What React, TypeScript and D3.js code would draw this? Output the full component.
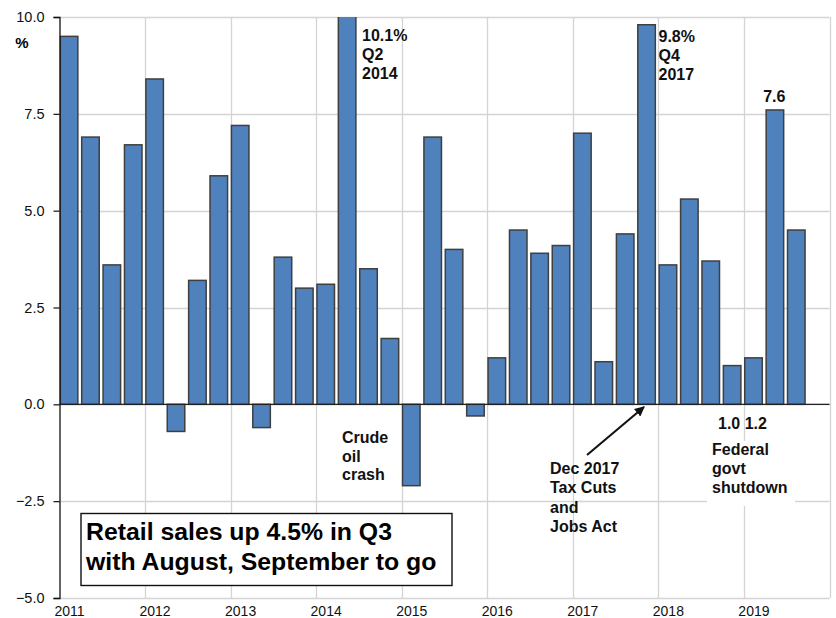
import React, { useRef, useEffect } from "react";
import * as d3 from "d3";

// Quarterly retail sales growth, annualized %
const years = ["2011", "2012", "2013", "2014", "2015", "2016", "2017", "2018", "2019"];
const quarterNames = ["Q1", "Q2", "Q3", "Q4"];
const values = [
  9.5, 6.9, 3.6, 6.7,
  8.4, -0.7, 3.2, 5.9,
  7.2, -0.6, 3.8, 3.0,
  3.1, 10.1, 3.5, 1.7,
  -2.1, 6.9, 4.0, -0.3,
  1.2, 4.5, 3.9, 4.1,
  7.0, 1.1, 4.4, 9.8,
  3.6, 5.3, 3.7, 1.0,
  1.2, 7.6, 4.5,
];
const yTicks = [-5, -2.5, 0, 2.5, 5, 7.5, 10];

const FONT = "'Liberation Sans', Arial, Helvetica, sans-serif";

const App = () => {
  const chartRef = useRef(null);

  useEffect(() => {
    const width = 836;
    const height = 618;
    const left = 59.5;
    const right = 829.5;
    const top = 17;
    const bottom = 598;

    const data = values.map((v, i) => ({
      label: `${years[Math.floor(i / 4)]} ${quarterNames[i % 4]}`,
      t: +years[Math.floor(i / 4)] + (i % 4) / 4,
      value: v,
    }));

    const svg = d3.select(chartRef.current).attr("width", width).attr("height", height);
    svg.selectAll("*").remove();

    const x = d3.scaleLinear().domain([2011, 2020]).range([left, right]);
    const y = d3.scaleLinear().domain([-5, 10]).range([bottom, top]);
    const slot = x(2011.25) - x(2011);
    const barW = slot * 0.82;

    const grid = "#d4d4d4";

    // horizontal gridlines
    svg
      .append("g")
      .selectAll("line")
      .data(yTicks)
      .join("line")
      .attr("x1", left)
      .attr("x2", right)
      .attr("y1", (d) => Math.round(y(d)) + 0.5)
      .attr("y2", (d) => Math.round(y(d)) + 0.5)
      .attr("stroke", grid)
      .attr("stroke-width", 1.3);

    // vertical year gridlines
    svg
      .append("g")
      .selectAll("line")
      .data(years.slice(1).map(Number).concat([2020]))
      .join("line")
      .attr("x1", (d) => Math.round(x(d)) + 0.5)
      .attr("x2", (d) => Math.round(x(d)) + 0.5)
      .attr("y1", top)
      .attr("y2", bottom)
      .attr("stroke", grid)
      .attr("stroke-width", 1.3);

    // clip bars at the top of the plot
    svg
      .append("clipPath")
      .attr("id", "plot-clip")
      .append("rect")
      .attr("x", left)
      .attr("y", top)
      .attr("width", right - left)
      .attr("height", bottom - top);

    svg
      .append("g")
      .attr("clip-path", "url(#plot-clip)")
      .selectAll("rect")
      .data(data)
      .join("rect")
      .attr("x", (d) => x(d.t) + 0.8)
      .attr("y", (d) => y(Math.max(0, d.value)))
      .attr("width", barW)
      .attr("height", (d) => Math.abs(y(d.value) - y(0)))
      .attr("fill", "#4f81bd")
      .attr("stroke", "#3f3f3f")
      .attr("stroke-width", 1.5);

    // zero line
    svg
      .append("line")
      .attr("x1", left)
      .attr("x2", right)
      .attr("y1", y(0))
      .attr("y2", y(0))
      .attr("stroke", "#222")
      .attr("stroke-width", 1.2);

    // left axis
    const yAxis = d3
      .axisLeft(y)
      .tickValues(yTicks)
      .tickSize(6)
      .tickPadding(9)
      .tickFormat(d3.format(".1f"));
    const ya = svg.append("g").attr("transform", `translate(${left},0)`).call(yAxis);
    ya.select(".domain").attr("stroke", "#111").attr("stroke-width", 1.3);
    ya.selectAll(".tick line").attr("stroke", "#111").attr("stroke-width", 1.2);
    ya.selectAll(".tick text")
      .style("font-family", FONT)
      .style("font-size", "14.5px")
      .attr("fill", "#111");

    // x labels
    svg
      .append("g")
      .selectAll("text")
      .data(years)
      .join("text")
      .attr("x", (d) => x(+d) + 10)
      .attr("y", 616)
      .attr("text-anchor", "middle")
      .style("font-family", FONT)
      .style("font-size", "14px")
      .attr("fill", "#111")
      .text((d) => d);

    // % unit
    svg
      .append("text")
      .attr("x", 22)
      .attr("y", 48)
      .attr("text-anchor", "middle")
      .style("font-family", FONT)
      .style("font-size", "15px")
      .style("font-weight", "bold")
      .text("%");

    const multiline = (lines, xPos, yPos, dy, anchor = "start") => {
      const t = svg
        .append("text")
        .attr("x", xPos)
        .attr("y", yPos)
        .attr("text-anchor", anchor)
        .style("font-family", FONT)
        .style("font-size", "16px")
        .style("font-weight", "bold")
        .attr("fill", "#111");
      lines.forEach((l, i) => {
        t.append("tspan").attr("x", xPos).attr("y", yPos + i * dy).text(l);
      });
    };

    // white patch behind the shutdown note
    svg
      .append("rect")
      .attr("x", 707)
      .attr("y", 441)
      .attr("width", 88)
      .attr("height", 65)
      .attr("fill", "#fff");

    multiline(["10.1%", "Q2", "2014"], x(2014.25) + 24.5, 41, 19);
    multiline(["9.8%", "Q4", "2017"], x(2017.75) + 21.5, 41.5, 19);
    multiline(["7.6"], x(2019.25) + 9, 102, 19, "middle");
    multiline(["Crude", "oil", "crash"], 342, 443, 18.7);
    multiline(["1.0 1.2"], 718, 428.5, 19);
    multiline(["Federal", "govt", "shutdown"], 712, 455, 19);
    multiline(["Dec 2017", "Tax Cuts", "and", "Jobs Act"], 550, 474, 19.3);

    // arrow to Q4 2017 bar
    svg
      .append("defs")
      .append("marker")
      .attr("id", "arrow")
      .attr("viewBox", "0 0 10 10")
      .attr("refX", 9)
      .attr("refY", 5)
      .attr("markerWidth", 5)
      .attr("markerHeight", 5)
      .attr("orient", "auto")
      .append("path")
      .attr("d", "M0,0L10,5L0,10z")
      .attr("fill", "#111");
    svg
      .append("line")
      .attr("x1", 587)
      .attr("y1", 455)
      .attr("x2", 644)
      .attr("y2", 407)
      .attr("stroke", "#111")
      .attr("stroke-width", 2)
      .attr("marker-end", "url(#arrow)");

    // headline box
    svg
      .append("rect")
      .attr("x", 81)
      .attr("y", 513.5)
      .attr("width", 371)
      .attr("height", 72)
      .attr("fill", "#fff")
      .attr("stroke", "#111")
      .attr("stroke-width", 1.4);
    const head = svg
      .append("text")
      .style("font-family", FONT)
      .style("font-size", "24.8px")
      .style("font-weight", "bold")
      .attr("fill", "#000");
    head.append("tspan").attr("x", 86).attr("y", 540).text("Retail sales up 4.5% in Q3");
    head.append("tspan").attr("x", 86).attr("y", 569.5).text("with August, September to go");
  }, []);

  return (
    <div style={{ position: "absolute", left: 0, top: 0, background: "#fff" }}>
      <svg ref={chartRef} style={{ display: "block" }}></svg>
    </div>
  );
};

export default App;
